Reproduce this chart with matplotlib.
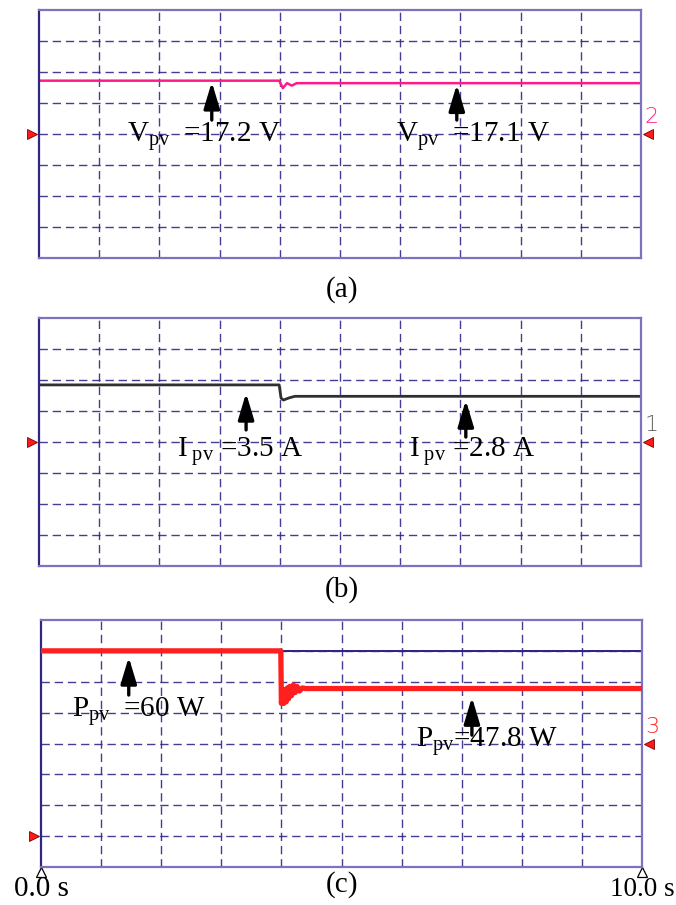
import matplotlib
matplotlib.use("Agg")
import matplotlib.pyplot as plt
import numpy as np

plt.rcParams['font.family'] = ['Liberation Serif', 'DejaVu Serif']
plt.rcParams['mathtext.fontset'] = 'custom'
plt.rcParams['mathtext.rm'] = 'Liberation Serif'
plt.rcParams['mathtext.it'] = 'Liberation Serif:italic'
plt.rcParams['lines.scale_dashes'] = False

# PV voltage (channel 2), volts
t_v = [0.0, 3.99, 4.05, 4.12, 4.20, 4.28, 10.0]
v_pv = [17.2, 17.2, 16.9, 17.1, 17.0, 17.1, 17.1]

# PV current (channel 1), amps
t_i = [0.0, 3.99, 4.02, 4.06, 4.15, 4.25, 10.0]
i_pv = [3.5, 3.5, 2.7, 2.57, 2.7, 2.8, 2.8]

# PV power (channel 3), watts
t_p = [0.0, 3.99, 4.0, 4.02, 4.04, 4.06, 4.08, 4.10, 4.12, 4.14, 4.17,
       4.20, 4.23, 4.26, 4.30, 4.35, 4.40, 10.0]
p_pv = [60.0, 60.0, 43.0, 47.0, 43.0, 47.5, 43.5, 48.0, 44.5, 48.5, 45.5,
        49.0, 46.5, 48.5, 47.0, 48.0, 47.8, 47.8]

# labels: (text, x start, baseline div, arrow x, arrow tip div, arrow tail div)
labels_a = [(r"V$_{\mathrm{pv}}$$\ \ $=17.2 V", 1.46, 3.74, 2.87, 5.68, 4.45),
            (r"V$_{\mathrm{pv}}$$\ \ $=17.1 V", 5.93, 3.74, 6.94, 5.60, 4.45)]
labels_b = [(r"I$_{\mathrm{\ pv}}$ =3.5 A", 2.29, 3.52, 3.44, 5.58, 4.39),
            (r"I$_{\mathrm{\ pv}}$ =2.8 A", 6.15, 3.52, 7.09, 5.35, 4.16)]
labels_c = [(r"P$_{\mathrm{pv}}$$\ \ $=60 W", 0.52, 4.85, 1.46, 6.80, 5.57),
            (r"P$_{\mathrm{pv}}$=47.8 W", 6.24, 3.88, 7.17, 5.50, 4.27)]

# scope scaling: div = ref + (value - offset) / per_div
V_DIV, V_OFF, V_REF = 1.25, 15.05, 4.0
I_DIV, I_REF = 1.9, 4.0
P_DIV, P_REF = 10.0, 1.0

W, H = 676, 905
GRID = '#2f2888'
FRAME = '#7d72bd'
FS = 21

fig = plt.figure(figsize=(W / 100, H / 100), dpi=100)


def make_panel(left, top, right, bottom):
    ax = fig.add_axes([left / W, 1 - bottom / H, (right - left) / W, (bottom - top) / H])
    ax.set_xlim(0, 10)
    ax.set_ylim(0, 8)
    ax.set_xticks(np.arange(1, 10))
    ax.set_yticks(np.arange(1, 8))
    ax.grid(True, color=GRID, linewidth=1.0, linestyle=(0, (6, 3.5)), alpha=0.9)
    ax.tick_params(length=0, labelbottom=False, labelleft=False)
    for s in ax.spines.values():
        s.set_color(FRAME)
        s.set_linewidth(1.6)
    ax.spines['left'].set_color('#2e2680')
    return ax


def channel_marks(ax, left_ref, right_ref, num, num_color):
    ax.plot([-0.011], [left_ref], marker='>', ms=7.5, color='#ff1a1a', mec='#7a0000', mew=0.6,
            transform=ax.get_yaxis_transform(), clip_on=False)
    ax.plot([1.012], [right_ref], marker='<', ms=7.5, color='#ff1a1a', mec='#7a0000', mew=0.6,
            transform=ax.get_yaxis_transform(), clip_on=False)
    ax.text(1.006, right_ref + 0.55, num, color=num_color, fontsize=16, family='DejaVu Sans',
            fontweight='light', ha='left', va='center',
            transform=ax.get_yaxis_transform(), clip_on=False)


def add_labels(ax, labels):
    for txt, x0, yb, xa, tip, tail in labels:
        ax.text(x0, yb, txt, fontsize=FS, ha='left', va='baseline', color='black')
        ax.annotate('', xy=(xa, tip), xytext=(xa, tail),
                    arrowprops=dict(arrowstyle='-|>,head_length=0.8,head_width=0.24',
                                    mutation_scale=20, lw=2.4, color='black',
                                    shrinkA=0, shrinkB=0))


# (a) voltage
ax_a = make_panel(39, 10, 641, 258)
ax_a.plot(t_v, V_REF + (np.array(v_pv) - V_OFF) / V_DIV, color='#ff1a8c', lw=1.8)
channel_marks(ax_a, 4.0, 4.0, '2', '#ff2a8a')
add_labels(ax_a, labels_a)

# (b) current
ax_b = make_panel(39, 318, 641, 566)
ax_b.plot(t_i, I_REF + np.array(i_pv) / I_DIV, color='#303030', lw=2.0)
channel_marks(ax_b, 4.0, 4.0, '1', '#606060')
add_labels(ax_b, labels_b)

# (c) power
ax_c = make_panel(41, 620, 642, 867)
ax_c.axhline(7.0, color='#2a2080', lw=1.4, zorder=1.5)
ax_c.plot(t_p, P_REF + np.array(p_pv) / P_DIV, color='#ff1f1f', lw=3.8, zorder=3)
channel_marks(ax_c, P_REF, 4.0, '3', '#ff2a2a')
ax_c.plot([0, 10], [-0.17, -0.17], ls='none', marker='^', ms=7, mfc='white',
          mec='black', mew=0.9, clip_on=False)
add_labels(ax_c, labels_c)

fig.text(342 / W, 1 - 290 / H, '(a)', fontsize=FS, ha='center', va='center')
fig.text(342 / W, 1 - 590 / H, '(b)', fontsize=FS, ha='center', va='center')
fig.text(342 / W, 1 - 885 / H, '(c)', fontsize=FS, ha='center', va='center')
fig.text(14 / W, 1 - 889 / H, '0.0 s', fontsize=FS, ha='left', va='center')
fig.text(675 / W, 1 - 889 / H, '10.0 s', fontsize=19.5, ha='right', va='center')

fig.savefig('out.png', dpi=100)
